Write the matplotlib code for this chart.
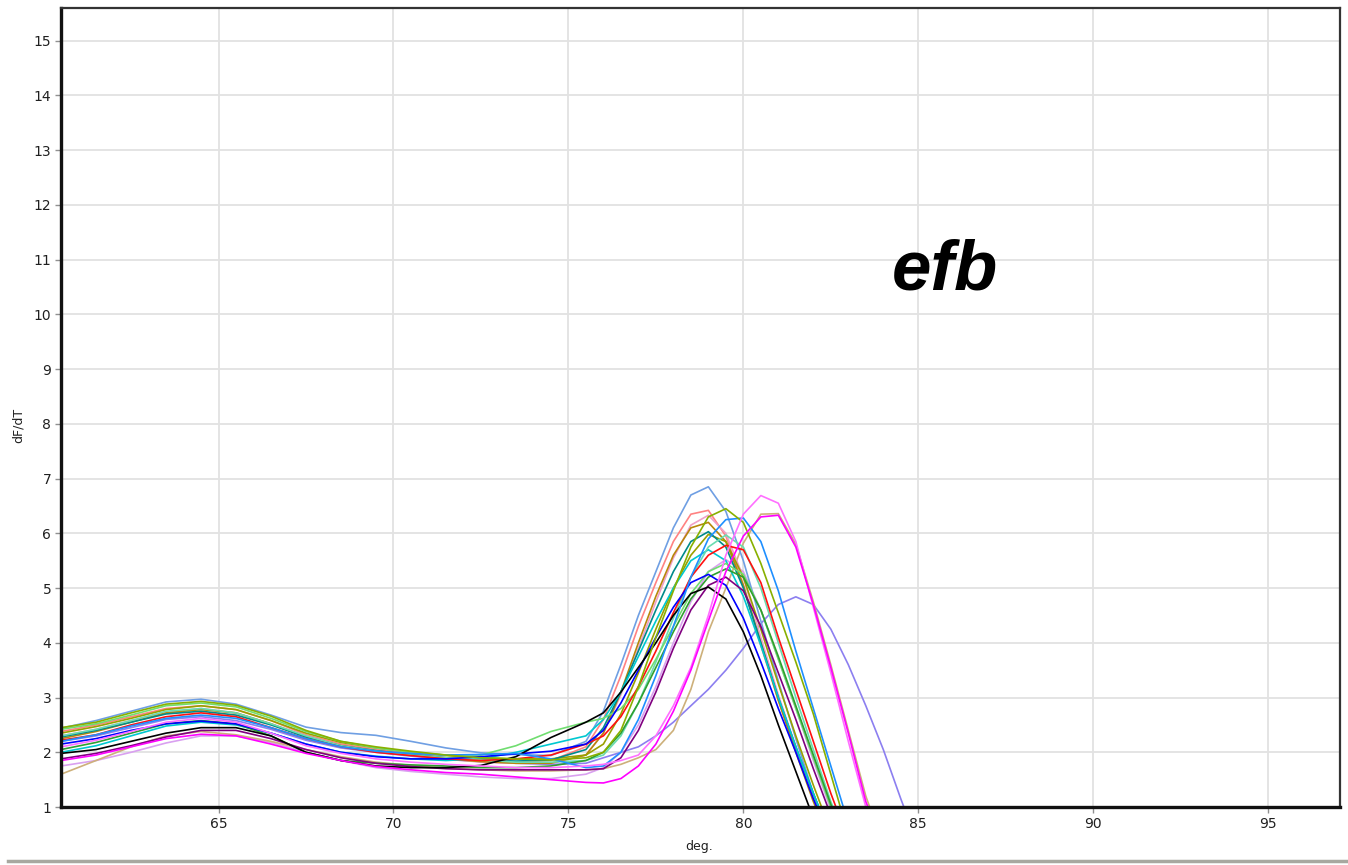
import matplotlib
matplotlib.use("Agg")
import matplotlib.pyplot as plt
from matplotlib.lines import Line2D

# temperature grid (deg.) shared by all melt curves
temps = [60.5, 61.5, 62.5, 63.5, 64.5, 65.5, 66.5, 67.5, 68.5, 69.5,
         70.5, 71.5, 72.5, 73.5, 74.5, 75.5, 76.0, 76.5, 77.0, 77.5,
         78.0, 78.5, 79.0, 79.5, 80.0, 80.5, 81.0, 81.5, 82.0, 82.5,
         83.0, 83.5, 84.0, 84.5, 85.0]

# dF/dT per sample
lightblue = [2.44, 2.58, 2.75, 2.92, 2.97, 2.88, 2.68, 2.46, 2.36, 2.31, 2.2, 2.08, 1.99, 1.96, 1.94,
             2.2, 2.75, 3.6, 4.5, 5.3, 6.1, 6.7, 6.85, 6.4, 5.5, 4.4, 3.3, 2.25, 1.25, 0.4, 0.2, 0.2, 0.2, 0.2, 0.2]
salmon = [2.38, 2.5, 2.65, 2.8, 2.85, 2.78, 2.58, 2.32, 2.15, 2.05, 1.98, 1.9, 1.85, 1.82, 1.85,
          2.1, 2.6, 3.4, 4.3, 5.1, 5.85, 6.35, 6.42, 5.95, 5.05, 3.95, 2.95, 2.05, 1.15, 0.4, 0.2, 0.2, 0.2, 0.2, 0.2]
pink = [2.3, 2.42, 2.58, 2.72, 2.8, 2.72, 2.52, 2.3, 2.12, 2.02, 1.95, 1.88, 1.82, 1.8, 1.8,
        1.95, 2.35, 3.05, 3.9, 4.75, 5.55, 6.15, 6.33, 6.0, 5.2, 4.1, 3.05, 2.1, 1.2, 0.4, 0.2, 0.2, 0.2, 0.2, 0.2]
goldenrod = [2.25, 2.38, 2.55, 2.72, 2.78, 2.72, 2.52, 2.28, 2.12, 2.02, 1.95, 1.88, 1.83, 1.8, 1.8,
             1.95, 2.35, 3.1, 4.0, 4.85, 5.6, 6.1, 6.2, 5.85, 5.05, 4.0, 2.95, 2.0, 1.1, 0.35, 0.2, 0.2, 0.2, 0.2, 0.2]
yellowgreen = [2.45, 2.55, 2.72, 2.88, 2.93, 2.86, 2.66, 2.4, 2.2, 2.1, 2.02, 1.95, 1.9, 1.88, 1.86,
               1.9, 2.0, 2.4, 3.2, 4.1, 4.95, 5.75, 6.3, 6.45, 6.2, 5.45, 4.55, 3.65, 2.7, 1.6, 0.5, 0.2, 0.2, 0.2, 0.2]
dodgerblue = [2.2, 2.32, 2.48, 2.62, 2.68, 2.62, 2.45, 2.25, 2.1, 2.02, 1.98, 1.95, 1.96, 1.98, 1.88,
              1.72, 1.75, 2.0, 2.6, 3.4, 4.3, 5.2, 5.9, 6.25, 6.28, 5.85, 4.95, 3.85, 2.8, 1.75, 0.7, 0.2, 0.2, 0.2, 0.2]
violet = [2.1, 2.22, 2.38, 2.55, 2.62, 2.55, 2.35, 2.12, 1.98, 1.88, 1.82, 1.78, 1.75, 1.72, 1.72,
          1.75, 1.78, 1.85, 1.95, 2.3, 2.85, 3.55, 4.5, 5.6, 6.35, 6.69, 6.55, 5.85, 4.65, 3.45, 2.2, 1.0, 0.2, 0.2, 0.2]
tan = [1.6, 1.85, 2.1, 2.3, 2.38, 2.32, 2.2, 2.05, 1.92, 1.82, 1.76, 1.71, 1.68, 1.66, 1.66,
       1.68, 1.7, 1.78, 1.9, 2.05, 2.4, 3.15, 4.2, 5.0, 5.82, 6.35, 6.36, 5.8, 4.75, 3.6, 2.4, 1.2, 0.3, 0.2, 0.2]
magenta = [1.85, 1.95, 2.1, 2.25, 2.33, 2.3, 2.15, 1.98, 1.85, 1.74, 1.68, 1.63, 1.6, 1.55, 1.5,
           1.45, 1.44, 1.52, 1.75, 2.15, 2.75, 3.5, 4.4, 5.3, 5.95, 6.3, 6.33, 5.75, 4.7, 3.55, 2.35, 1.1, 0.3, 0.2, 0.2]
mediumpurple = [2.2, 2.3, 2.45, 2.6, 2.65, 2.58, 2.42, 2.22, 2.08, 2.0, 1.93, 1.87, 1.83, 1.8, 1.78,
                1.8, 1.9, 2.0, 2.1, 2.3, 2.55, 2.85, 3.15, 3.5, 3.9, 4.35, 4.7, 4.84, 4.7, 4.25, 3.6, 2.85, 2.05, 1.15, 0.3]
teal = [2.28, 2.4, 2.55, 2.7, 2.75, 2.68, 2.5, 2.28, 2.12, 2.03, 1.96, 1.9, 1.86, 1.84, 1.86,
        2.05, 2.45, 3.1, 3.85, 4.6, 5.3, 5.85, 6.03, 5.75, 5.0, 4.0, 3.0, 2.1, 1.25, 0.45, 0.2, 0.2, 0.2, 0.2, 0.2]
turquoise = [2.0, 2.12, 2.3, 2.48, 2.55, 2.5, 2.35, 2.15, 2.0, 1.93, 1.88, 1.85, 1.88, 2.0, 2.15,
             2.3, 2.6, 3.1, 3.75, 4.4, 5.0, 5.5, 5.7, 5.5, 4.85, 3.95, 3.0, 2.1, 1.25, 0.45, 0.2, 0.2, 0.2, 0.2, 0.2]
aquamarine = [2.3, 2.42, 2.58, 2.75, 2.8, 2.72, 2.52, 2.3, 2.12, 2.02, 1.95, 1.9, 1.86, 1.82, 1.82,
              1.85, 1.95, 2.3, 2.9, 3.65, 4.45, 5.2, 5.75, 5.97, 5.75, 5.0, 4.0, 3.0, 2.05, 1.1, 0.3, 0.2, 0.2, 0.2, 0.2]
red = [2.22, 2.32, 2.5, 2.65, 2.72, 2.65, 2.45, 2.25, 2.1, 2.0, 1.94, 1.88, 1.85, 1.88, 1.95,
       2.15, 2.3, 2.65, 3.2, 3.85, 4.55, 5.2, 5.6, 5.78, 5.7, 5.1, 4.1, 3.15, 2.2, 1.25, 0.4, 0.2, 0.2, 0.2, 0.2]
plum = [1.75, 1.85, 2.0, 2.17, 2.3, 2.3, 2.18, 2.0, 1.85, 1.72, 1.65, 1.6, 1.55, 1.52, 1.52,
        1.6, 1.72, 2.0, 2.5, 3.2, 4.0, 4.75, 5.3, 5.52, 5.3, 4.6, 3.7, 2.8, 1.85, 0.95, 0.3, 0.2, 0.2, 0.2, 0.2]
green = [2.05, 2.18, 2.35, 2.52, 2.58, 2.52, 2.3, 2.0, 1.85, 1.8, 1.77, 1.75, 1.72, 1.72, 1.75,
         1.85, 2.0, 2.35, 2.9, 3.55, 4.2, 4.8, 5.2, 5.35, 5.2, 4.6, 3.75, 2.85, 1.95, 1.05, 0.3, 0.2, 0.2, 0.2, 0.2]
blue = [2.15, 2.25, 2.4, 2.52, 2.57, 2.52, 2.35, 2.15, 2.0, 1.92, 1.88, 1.88, 1.92, 1.97, 2.02,
        2.15, 2.4, 2.9, 3.5, 4.1, 4.65, 5.1, 5.25, 5.05, 4.45, 3.65, 2.8, 2.0, 1.15, 0.4, 0.2, 0.2, 0.2, 0.2, 0.2]
black = [1.98, 2.05, 2.2, 2.35, 2.45, 2.45, 2.3, 2.0, 1.85, 1.75, 1.72, 1.72, 1.76, 1.92, 2.27,
         2.55, 2.72, 3.1, 3.55, 4.0, 4.5, 4.9, 5.02, 4.8, 4.2, 3.4, 2.5, 1.65, 0.8, 0.2, 0.2, 0.2, 0.2, 0.2, 0.2]
lightgreen = [2.42, 2.52, 2.68, 2.85, 2.9, 2.83, 2.62, 2.38, 2.2, 2.08, 2.0, 1.95, 1.95, 2.12, 2.38,
              2.55, 2.62, 2.8, 3.15, 3.7, 4.3, 4.9, 5.3, 5.45, 5.25, 4.6, 3.7, 2.8, 1.9, 1.0, 0.3, 0.2, 0.2, 0.2, 0.2]
olive = [2.35, 2.47, 2.62, 2.78, 2.85, 2.78, 2.58, 2.35, 2.18, 2.08, 2.0, 1.94, 1.9, 1.88, 1.88,
         1.95, 2.15, 2.7, 3.45, 4.25, 5.0, 5.6, 5.98, 5.85, 5.2, 4.25, 3.25, 2.3, 1.4, 0.55, 0.2, 0.2, 0.2, 0.2, 0.2]
purple = [1.88, 1.98, 2.12, 2.28, 2.4, 2.4, 2.25, 2.05, 1.9, 1.8, 1.74, 1.7, 1.68, 1.68, 1.68,
          1.68, 1.7, 1.9, 2.4, 3.1, 3.9, 4.6, 5.05, 5.2, 4.95, 4.3, 3.45, 2.6, 1.7, 0.85, 0.2, 0.2, 0.2, 0.2, 0.2]

curves = [
    (mediumpurple, "#8c7ff0"), (plum, "#d9a0f0"), (tan, "#cdb07a"),
    (lightblue, "#6f9fe3"), (salmon, "#ff8282"), (pink, "#f0a0c8"),
    (goldenrod, "#b8860b"), (olive, "#9aa000"), (teal, "#008a8a"),
    (turquoise, "#00c8d0"), (aquamarine, "#6adcb0"), (lightgreen, "#70dd70"),
    (green, "#2f9f2f"), (red, "#ff1010"), (purple, "#800080"),
    (blue, "#0000ff"), (black, "#000000"), (dodgerblue, "#1e8fff"),
    (yellowgreen, "#88b000"), (violet, "#ff70ff"), (magenta, "#ff00ff"),
]

fig = plt.figure(figsize=(13.48, 8.65), dpi=100)
ax = fig.add_axes([0.0453, 0.067, 0.9487, 0.924])

for vals, col in curves:
    ax.plot(temps, vals, color=col, lw=1.2, solid_joinstyle="round")

ax.set_xlim(60.5, 97.05)
ax.set_ylim(1, 15.6)
ax.set_xticks([65, 70, 75, 80, 85, 90, 95])
ax.set_yticks(range(1, 16))
ax.grid(True, color="#e2e2e2", lw=1.3)
ax.set_axisbelow(True)
ax.tick_params(direction="out", length=4, width=1, color="#909090",
               labelsize=10, labelcolor="#202020", pad=3)

for side in ["left", "bottom"]:
    ax.spines[side].set_linewidth(2.4)
    ax.spines[side].set_color("#111111")
for side in ["top", "right"]:
    ax.spines[side].set_linewidth(1.6)
    ax.spines[side].set_color("#333333")

ax.text(85.75, 10.45, "efb", fontsize=51, fontweight="bold", fontstyle="italic",
        family="Liberation Sans", ha="center", va="baseline")

fig.text(0.5185, 0.014, "deg.", fontsize=9, ha="center", va="bottom", color="#202020")
fig.text(0.0135, 0.508, "dF/dT", fontsize=9, rotation=90, ha="center", va="center", color="#202020")

# window border strip under the chart
fig.add_artist(Line2D([0.006, 1.0], [0.0045, 0.0045], color="#a8a8a0", lw=2.5,
                      transform=fig.transFigure))

fig.savefig("out.png", dpi=100)
